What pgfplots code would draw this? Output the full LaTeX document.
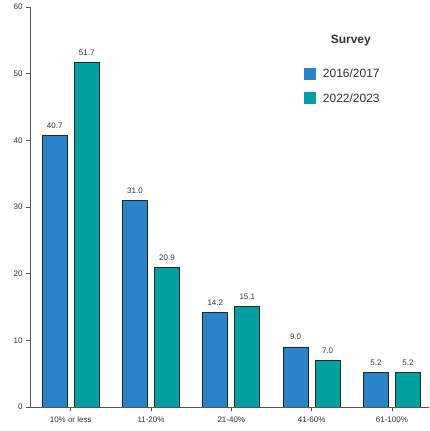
\documentclass[border=0pt]{standalone}
\usepackage{fontspec}
\setmainfont{Liberation Sans}
\usepackage{pgfplots}
\pgfplotsset{compat=1.18}
\definecolor{cblue}{HTML}{2A82C8}
\definecolor{cteal}{HTML}{00A0A0}
\definecolor{axgray}{HTML}{555555}
\definecolor{txt}{HTML}{333333}
\begin{document}
\begin{tikzpicture}
\path[use as bounding box] (-30pt,-24pt) rectangle (399pt,407pt);
\begin{axis}[
  at={(0,0)}, anchor=south west,
  scale only axis, width=399pt, height=400pt,
  xmin=-0.507, xmax=4.462, ymin=0, ymax=60,
  axis x line*=bottom, axis y line*=left,
  axis line style={axgray, line width=0.8pt},
  tick align=outside, major tick length=4pt,
  tick style={axgray, line width=0.8pt},
  xtick={0,1,2,3,4},
  xticklabels={10\% or less,11-20\%,21-40\%,41-60\%,61-100\%},
  ytick={0,10,20,30,40,50,60},
  /pgf/number format/assume math mode=true,
  ticklabel style={font=\fontsize{8}{9}\selectfont, text=txt},
  xticklabel style={yshift=-2pt},
  ybar, bar width=25pt,
  nodes near coords={\pgfmathprintnumber[fixed,fixed zerofill,precision=1,assume math mode=true]{\pgfplotspointmeta}},
  every node near coord/.append style={font=\fontsize{8}{9}\selectfont, text=txt, anchor=south, yshift=3.5pt},
  legend image code/.code={\path[draw=none,fill=none] (0pt,-1pt) rectangle (17pt,1pt); \fill[#1,draw=none] (0pt,-6pt) rectangle (12pt,6pt);},
  legend style={at={(rel axis cs:0.686,0.85)}, anchor=north west, draw=none, fill=none,
    font=\fontsize{12}{13}\selectfont, text=txt, row sep=10pt, inner sep=0pt,
    nodes={inner sep=2pt}},
  legend cell align=left,
]
\addplot[fill=cblue, draw=black!85, line width=0.7pt, bar shift=-16pt]
  coordinates {(0,40.7) (1,31.0) (2,14.2) (3,9.0) (4,5.2)};
\addlegendentry{2016/2017}
\addplot[fill=cteal, draw=black!85, line width=0.7pt, bar shift=16pt]
  coordinates {(0,51.7) (1,20.9) (2,15.1) (3,7.0) (4,5.2)};
\addlegendentry{2022/2023}
\node[font=\bfseries\fontsize{12}{13}\selectfont, text=txt] at (rel axis cs:0.804,0.915) {Survey};
\end{axis}
\end{tikzpicture}
\end{document}
